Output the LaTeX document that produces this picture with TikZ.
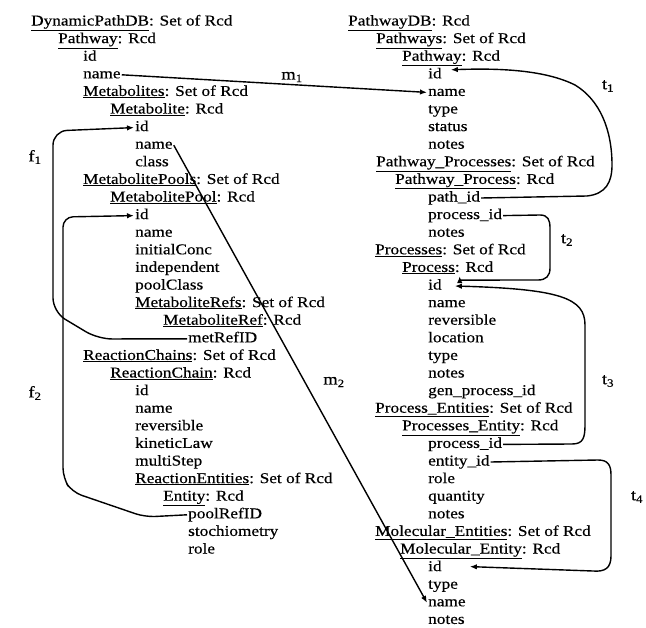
\documentclass[tikz,border=0pt]{standalone}
\usepackage{fontspec}
\setmainfont{Liberation Serif}[FakeStretch=1.15, FakeBold=0.4]
\usetikzlibrary{arrows.meta, calc}
\newcommand{\recfont}{\fontsize{15bp}{18bp}\selectfont}
\newcommand{\lblfont}{\fontsize{16bp}{18bp}\selectfont}
\newcommand{\rechdr}[2]{\underline{#1}: #2}
\tikzset{
    rec/.style={
        anchor=west,
        inner sep=1bp,
        text height=10bp,
        text depth=3bp,
        font=\recfont,
        text=black
    },
    lbl/.style={
        font=\lblfont,
        inner sep=1bp,
        text=black
    },
    link/.style={
        -{Latex[length=7bp,width=5.5bp]},
        line width=1.4bp,
        black
    }
}
\begin{document}
\begin{tikzpicture}[x=1bp, y=-1bp]
                \useasboundingbox[fill=white] (0,0) rectangle (646,628);

                % DynamicPathDB schema
                \node[rec] (dp) at (30,22) {\rechdr{DynamicPathDB}{Set of Rcd}};
                \node[rec] (lpw) at (57,39.6) {\rechdr{Pathway}{Rcd}};
                \node[rec] (lpwId) at (82,57.2) {id};
                \node[rec] (lpwName) at (82,74.8) {name};
                \node[rec] (lmets) at (82,92.4) {\rechdr{Metabolites}{Set of Rcd}};
                \node[rec] (lmet) at (109,110) {\rechdr{Metabolite}{Rcd}};
                \node[rec] (lmetId) at (134,127.6) {id};
                \node[rec] (lmetName) at (134,145.2) {name};
                \node[rec] (lmetClass) at (134,162.8) {class};
                \node[rec] (lpools) at (82,180.4) {\rechdr{MetabolitePools}{Set of Rcd}};
                \node[rec] (lpool) at (109,198) {\rechdr{MetabolitePool}{Rcd}};
                \node[rec] (lpoolId) at (134,215.6) {id};
                \node[rec] (lpoolName) at (134,233.2) {name};
                \node[rec] (lpoolConc) at (134,250.8) {initialConc};
                \node[rec] (lpoolIndep) at (134,268.4) {independent};
                \node[rec] (lpoolClass) at (134,286) {poolClass};
                \node[rec] (lrefs) at (134,303.6) {\rechdr{MetaboliteRefs}{Set of Rcd}};
                \node[rec] (lref) at (162,321.2) {\rechdr{MetaboliteRef}{Rcd}};
                \node[rec] (lrefId) at (187,338.8) {metRefID};
                \node[rec] (lchains) at (82,356.4) {\rechdr{ReactionChains}{Set of Rcd}};
                \node[rec] (lchain) at (109,374) {\rechdr{ReactionChain}{Rcd}};
                \node[rec] (lchainId) at (134,391.6) {id};
                \node[rec] (lchainName) at (134,409.2) {name};
                \node[rec] (lchainRev) at (134,426.8) {reversible};
                \node[rec] (lchainLaw) at (134,444.4) {kineticLaw};
                \node[rec] (lchainStep) at (134,462) {multiStep};
                \node[rec] (lents) at (134,479.6) {\rechdr{ReactionEntities}{Set of Rcd}};
                \node[rec] (lent) at (162,497.2) {\rechdr{Entity}{Rcd}};
                \node[rec] (lentPool) at (187,514.8) {poolRefID};
                \node[rec] (lentStoich) at (187,532.4) {stochiometry};
                \node[rec] (lentRole) at (187,550) {role};

                % PathwayDB schema
                \node[rec] (pdb) at (347,22) {\rechdr{PathwayDB}{Rcd}};
                \node[rec] (rpws) at (375,39.6) {\rechdr{Pathways}{Set of Rcd}};
                \node[rec] (rpw) at (401,57.2) {\rechdr{Pathway}{Rcd}};
                \node[rec] (rpwId) at (427,74.8) {id};
                \node[rec] (rpwName) at (427,92.4) {name};
                \node[rec] (rpwType) at (427,110) {type};
                \node[rec] (rpwStatus) at (427,127.6) {status};
                \node[rec] (rpwNotes) at (427,145.2) {notes};
                \node[rec] (rpps) at (375,162.8) {\rechdr{Pathway\_Processes}{Set of Rcd}};
                \node[rec] (rpp) at (394,180.4) {\rechdr{Pathway\_Process}{Rcd}};
                \node[rec] (rppPath) at (427,198) {path\_id};
                \node[rec] (rppProc) at (427,215.6) {process\_id};
                \node[rec] (rppNotes) at (427,233.2) {notes};
                \node[rec] (rprocs) at (374,250.8) {\rechdr{Processes}{Set of Rcd}};
                \node[rec] (rproc) at (401,268.4) {\rechdr{Process}{Rcd}};
                \node[rec] (rprocId) at (427,286) {id};
                \node[rec] (rprocName) at (427,303.6) {name};
                \node[rec] (rprocRev) at (427,321.2) {reversible};
                \node[rec] (rprocLoc) at (427,338.8) {location};
                \node[rec] (rprocType) at (427,356.4) {type};
                \node[rec] (rprocNotes) at (427,374) {notes};
                \node[rec] (rprocGen) at (427,391.6) {gen\_process\_id};
                \node[rec] (rpes) at (374,409.2) {\rechdr{Process\_Entities}{Set of Rcd}};
                \node[rec] (rpe) at (401,426.8) {\rechdr{Processes\_Entity}{Rcd}};
                \node[rec] (rpeProc) at (427,444.4) {process\_id};
                \node[rec] (rpeEnt) at (427,462) {entity\_id};
                \node[rec] (rpeRole) at (427,479.6) {role};
                \node[rec] (rpeQty) at (427,497.2) {quantity};
                \node[rec] (rpeNotes) at (427,514.8) {notes};
                \node[rec] (rmes) at (374,532.4) {\rechdr{Molecular\_Entities}{Set of Rcd}};
                \node[rec] (rme) at (399,550) {\rechdr{Molecular\_Entity}{Rcd}};
                \node[rec] (rmeId) at (427,567.6) {id};
                \node[rec] (rmeType) at (427,585.2) {type};
                \node[rec] (rmeName) at (427,602.8) {name};
                \node[rec] (rmeNotes) at (427,620.4) {notes};

                % mappings between the two schemas
                \draw[link] (lpwName.east) -- (rpwName.west);
                \draw[link] (lmetName.east) -- (rmeName.west);
                \node[lbl] (m1) at (292,77) {m\textsubscript{1}};
                \node[lbl] (m2) at (334,382) {m\textsubscript{2}};

                % foreign keys, left
                \draw[link, rounded corners=14bp] (lrefId.west) -- (98,339) -- (53,312) -- (53,131) -- (lmetId.west);
                \draw[link, rounded corners=10bp] (lentPool.west) -- (145,517) -- (72,492) -- (63,478) -- (63,217) -- (lpoolId.west);
                \node[lbl] (f1) at (35,157) {f\textsubscript{1}};
                \node[lbl] (f2) at (35,393) {f\textsubscript{2}};

                % foreign keys, right
                \draw[link] (rppPath.east) -- (587,196) .. controls (606,194) and (612,182) .. (612,165) .. controls (612,130) and (600,100) .. (575,85) .. controls (545,70) and (500,68) .. ($(rpwId.east)+(8,-5)$);
                \draw[link] (rppProc.east) -- (540,215) .. controls (548,215) and (550,220) .. (550,228) -- (550,268) .. controls (550,276) and (546,280) .. (538,280) -- ($(rproc.south)+(12,4)$) -- ($(rproc.south)+(12,0)$);
                \draw[link] (rpeProc.east) -- (572,444) .. controls (583,444) and (585,438) .. (585,425) -- (585,325) .. controls (585,298) and (560,289) .. ($(rprocId.east)+(12,0)$);
                \draw[link] (rpeEnt.east) -- (598,460) .. controls (608,460) and (611,465) .. (611,475) -- (611,556) .. controls (611,568) and (605,572) .. (593,571) -- ($(rmeId.east)+(27,-1)$);
                \node[lbl] (t1) at (608,86) {t\textsubscript{1}};
                \node[lbl] (t2) at (567,240) {t\textsubscript{2}};
                \node[lbl] (t3) at (608,381) {t\textsubscript{3}};
                \node[lbl] (t4) at (637,497) {t\textsubscript{4}};
            \end{tikzpicture}
\end{document}
